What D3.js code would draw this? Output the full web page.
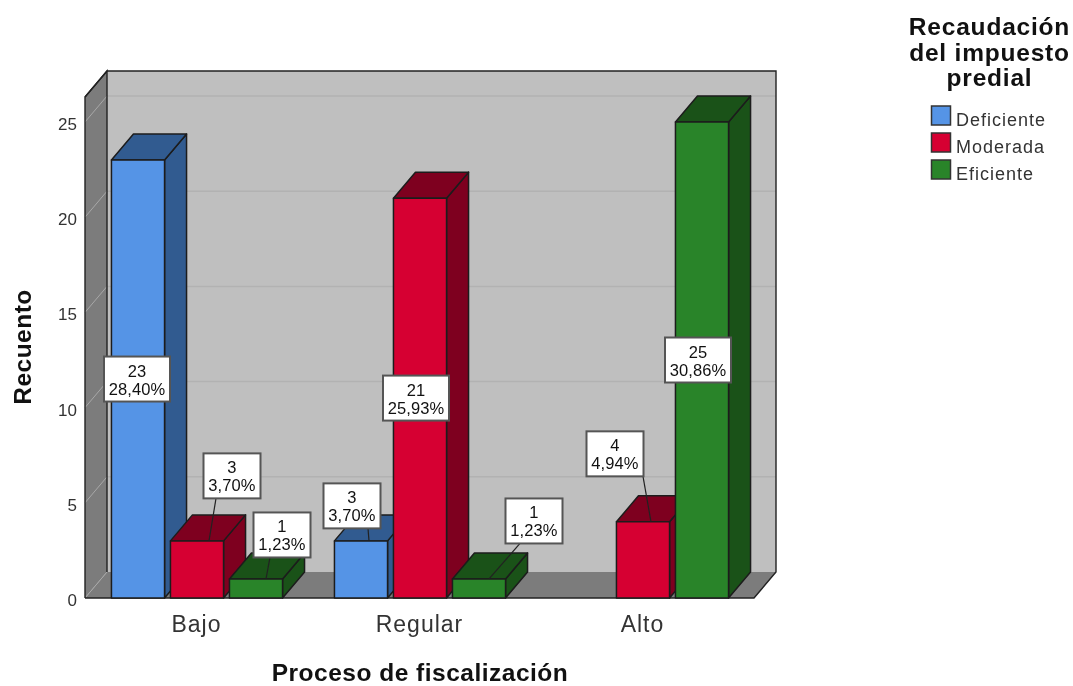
<!DOCTYPE html>
<html><head><meta charset="utf-8">
<script src="https://cdn.jsdelivr.net/npm/d3@7"></script>
<style>html,body{margin:0;background:#fff;overflow:hidden}svg{display:block;filter:blur(0.4px)}text{font-family:"Liberation Sans",Arial,sans-serif}</style>
</head><body><div id="c"></div>
<script>
const categories = ["Bajo","Regular","Alto"];
const seriesNames = ["Deficiente","Moderada","Eficiente"];
const deficiente = [23,3,0];
const moderada = [3,21,4];
const eficiente = [1,1,25];
const pctDeficiente = ["28,40%","3,70%",""];
const pctModerada = ["3,70%","25,93%","4,94%"];
const pctEficiente = ["1,23%","1,23%","30,86%"];
const yTicks = [0,5,10,15,20,25];
const legendTitle = ["Recaudación","del impuesto","predial"];
const xTitle = "Proceso de fiscalización";
const yTitle = "Recuento";
const values = [deficiente,moderada,eficiente];
const pcts = [pctDeficiente,pctModerada,pctEficiente];

const front = ["#5594e6","#d60032","#298429"];
const dark = ["#315b90","#7e001f","#1a5218"];
const W=1073,H=686;
const svg=d3.select("#c").append("svg").attr("width",W).attr("height",H);
const plot={l:85,r:754,b:598};
const dx=22,dy=-26;
const y=d3.scaleLinear().domain([0,25]).range([plot.b,122]);
const topY=71-dy;
const x0=d3.scaleBand().domain(categories).range([plot.l,plot.r]);
const x1=d3.scaleBand().domain(seriesNames).range([0,177]).paddingInner(0.1).paddingOuter(0.05);
const barX=(c,s)=>x0(c)+(x0.bandwidth()-177)/2+x1(s)+0.5;
const pts=a=>a.map(p=>p.join(",")).join(" ");
const line="#1c1c1c";

// walls
svg.append("polygon").attr("points",pts([[plot.l+dx,topY+dy],[plot.r+dx,topY+dy],[plot.r+dx,plot.b+dy],[plot.l+dx,plot.b+dy]])).attr("fill","#bfbfbf");
svg.append("polygon").attr("points",pts([[plot.l,topY],[plot.l+dx,topY+dy],[plot.l+dx,plot.b+dy],[plot.l,plot.b]])).attr("fill","#7c7c7c");
svg.append("polygon").attr("points",pts([[plot.l,plot.b],[plot.l+dx,plot.b+dy],[plot.r+dx,plot.b+dy],[plot.r,plot.b]])).attr("fill","#7c7c7c");
// gridlines
yTicks.forEach(t=>{
  const v=y(t);
  if(t>0) svg.append("line").attr("x1",plot.l+dx).attr("x2",plot.r+dx).attr("y1",v+dy).attr("y2",v+dy).attr("stroke","#b2b2b2").attr("stroke-width",1.5);
  svg.append("line").attr("x1",plot.l).attr("x2",plot.l+dx).attr("y1",v).attr("y2",v+dy).attr("stroke","#a8a8a8").attr("stroke-width",1);
});
// wall outlines
const outline=(a)=>svg.append("polyline").attr("points",pts(a)).attr("fill","none").attr("stroke","#222").attr("stroke-width",1.4);
outline([[plot.l,plot.b],[plot.l,topY],[plot.l+dx,topY+dy],[plot.r+dx,topY+dy],[plot.r+dx,plot.b+dy],[plot.r,plot.b],[plot.l,plot.b]]);
outline([[plot.l,topY],[plot.l+dx,topY+dy],[plot.l+dx,plot.b+dy]]);

// bars, painted left to right
const bw=x1.bandwidth();
categories.forEach((c,ci)=>{
  seriesNames.forEach((s,si)=>{
    const v=values[si][ci]; if(!v) return;
    const xl=barX(c,s),xr=xl+bw,yt=y(v),yb=y(0);
    const g=svg.append("g").attr("stroke",line).attr("stroke-width",1.5).attr("stroke-linejoin","round");
    g.append("polygon").attr("points",pts([[xr,yt],[xr+dx,yt+dy],[xr+dx,yb+dy],[xr,yb]])).attr("fill",dark[si]);
    g.append("polygon").attr("points",pts([[xl,yt],[xl+dx,yt+dy],[xr+dx,yt+dy],[xr,yt]])).attr("fill",dark[si]);
    g.append("rect").attr("x",xl).attr("y",yt).attr("width",bw).attr("height",yb-yt).attr("fill",front[si]);
  });
});

// label placement: [box dx from bar centre, box dy from bar top, leader start dx from box centre, leader end dx from bar centre]
// entries of length 1 are centred in the bar height
const labelShift={ "0,0":[-1], "1,0":[35,-65,-16,12], "2,0":[26,-44,-12,10],
                   "0,1":[-9,-35,16,8], "1,1":[-4], "2,1":[55,-58,-14,10],
                   "1,2":[-28,-68,28,8], "2,2":[-4] };
categories.forEach((c,ci)=>{
  seriesNames.forEach((s,si)=>{
    const v=values[si][ci]; if(!v) return;
    const cx=barX(c,s)+bw/2, yt=y(v);
    const sh=labelShift[si+","+ci];
    const wide=pcts[si][ci].length>5;
    const bwid=wide?66:57, bh=45;
    let lx=cx+sh[0],ly;
    if(sh.length>1){ly=yt+sh[1];
      svg.append("line").attr("x1",lx+sh[2]).attr("y1",ly+bh/2).attr("x2",cx+sh[3]).attr("y2",yt)
        .attr("stroke","#222").attr("stroke-width",1.2);
    } else {ly=(yt+y(0))/2;}
    svg.append("rect").attr("x",lx-bwid/2).attr("y",ly-bh/2).attr("width",bwid).attr("height",bh)
      .attr("fill","#fff").attr("stroke","#555").attr("stroke-width",2);
    const t=svg.append("text").attr("text-anchor","middle").attr("font-size",16.5).attr("letter-spacing",0.1).attr("fill","#111");
    t.append("tspan").attr("x",lx).attr("y",ly-2.5).text(v);
    t.append("tspan").attr("x",lx).attr("y",ly+15.5).text(pcts[si][ci]);
  });
});

// y tick labels
svg.append("g").selectAll("text").data(yTicks).join("text")
  .attr("x",77).attr("y",d=>y(d)+8).attr("text-anchor","end").attr("font-size",17).attr("fill","#333").text(d=>d);
// category labels
svg.append("g").selectAll("text").data(categories).join("text")
  .attr("x",d=>x0(d)+x0.bandwidth()/2).attr("y",632).attr("text-anchor","middle").attr("font-size",23).attr("letter-spacing",1).attr("fill","#333").text(d=>d);
// axis titles
svg.append("text").attr("x",420).attr("y",680.8).attr("text-anchor","middle").attr("font-size",24.5).attr("letter-spacing",0.5).attr("font-weight","bold").attr("fill","#111").text(xTitle);
svg.append("text").attr("transform","translate(31,347) rotate(-90)").attr("text-anchor","middle").attr("font-size",24.5).attr("letter-spacing",0.5).attr("font-weight","bold").attr("fill","#111").text(yTitle);
// legend
const legendTitleY=d3.scalePoint().domain(legendTitle).range([35,86]);
legendTitle.forEach(t=>svg.append("text").attr("x",989.5).attr("y",legendTitleY(t)).attr("text-anchor","middle").attr("font-size",24.5).attr("letter-spacing",0.8).attr("font-weight","bold").attr("fill","#111").text(t));
const legendY=d3.scalePoint().domain(seriesNames).range([106,160]);
seriesNames.forEach((s,i)=>{
  svg.append("rect").attr("x",931.5).attr("y",legendY(s)).attr("width",19).attr("height",19).attr("fill",front[i]).attr("stroke","#333").attr("stroke-width",1.5);
  svg.append("text").attr("x",956).attr("y",legendY(s)+19.5).attr("font-size",18).attr("letter-spacing",1).attr("fill","#333").text(s);
});
</script></body></html>
